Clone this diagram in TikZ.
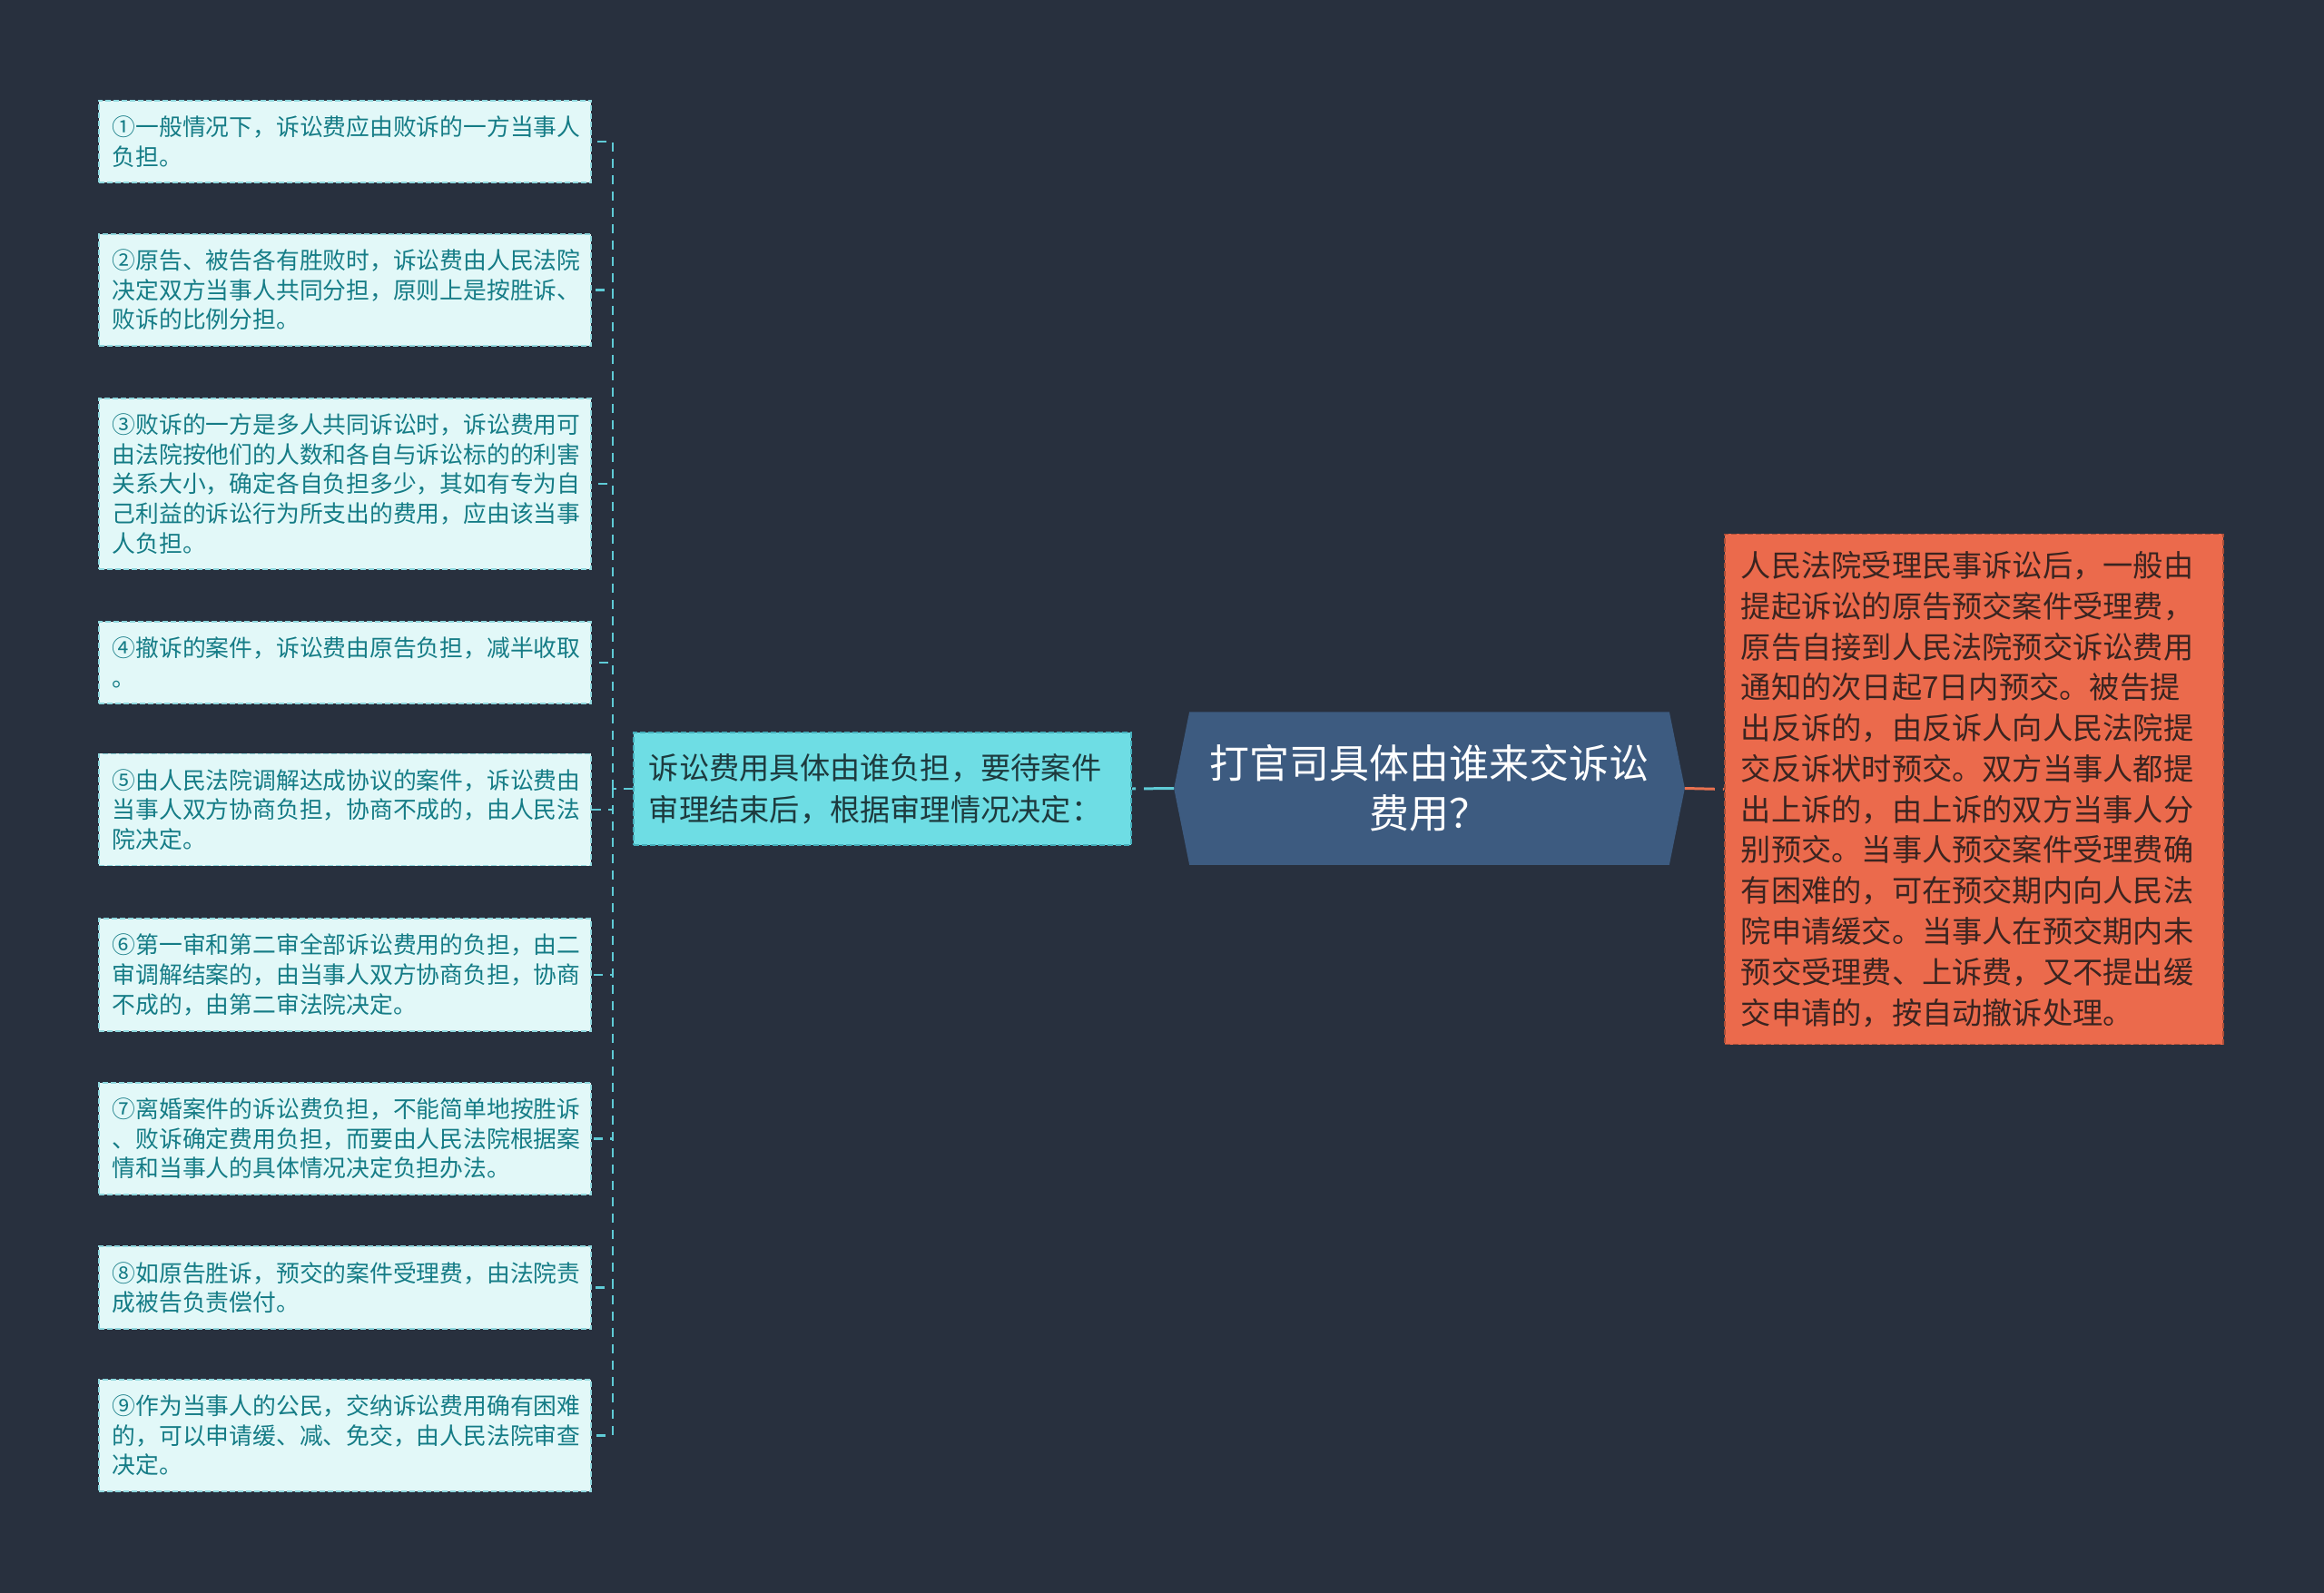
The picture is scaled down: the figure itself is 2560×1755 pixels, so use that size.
\documentclass[tikz,border=0pt]{standalone}
\usepackage{fontspec}
\newfontfamily\cjk{Noto Sans CJK SC}
\usepackage{xcolor}
\usetikzlibrary{positioning,backgrounds}
\definecolor{bgnavy}{HTML}{28303E}
\definecolor{leaffill}{HTML}{E2F8F8}
\definecolor{leafline}{HTML}{8FD8DE}
\definecolor{leaftext}{HTML}{157C86}
\definecolor{midfill}{HTML}{6EDDE4}
\definecolor{midline}{HTML}{45AEBB}
\definecolor{midtext}{HTML}{1D3A3E}
\definecolor{hubfill}{HTML}{3D5B80}
\definecolor{notefill}{HTML}{EB6A4C}
\definecolor{noteline}{HTML}{A94E38}
\definecolor{notetext}{HTML}{3A2420}
\definecolor{cyanline}{HTML}{5FCBD6}
\definecolor{orangeline}{HTML}{E9714F}

\begin{document}
\begin{tikzpicture}[x=0.01cm,y=-0.01cm,every node/.style={font=\cjk},
  leaf/.style={draw=leafline,line width=0.5pt,dash pattern=on 0.06cm off 0.03cm,
    fill=leaffill,text=leaftext,text width=5.12cm,align=left,
    inner xsep=0.15cm,inner ysep=0.17cm,
    font=\cjk\fontsize{7.33pt}{9.27pt}\selectfont},
  twig/.style={draw=cyanline,line width=0.6pt,dash pattern=on 0.1cm off 0.08cm},
  stem/.style={line width=0.85pt,dash pattern=on 0.33cm off 0.09cm}]
  \useasboundingbox (0,0) rectangle (2560,1755);

  % left column
  \node[leaf] (leaf1) at (380,156) {①一般情况下，诉讼费应由败诉的一方当事人\\负担。};
  \node[leaf] (leaf2) at (380,319.5) {②原告、被告各有胜败时，诉讼费由人民法院\\决定双方当事人共同分担，原则上是按胜诉、\\败诉的比例分担。};
  \node[leaf] (leaf3) at (380,533) {③败诉的一方是多人共同诉讼时，诉讼费用可\\由法院按他们的人数和各自与诉讼标的的利害\\关系大小，确定各自负担多少，其如有专为自\\己利益的诉讼行为所支出的费用，应由该当事\\人负担。};
  \node[leaf] (leaf4) at (380,730) {④撤诉的案件，诉讼费由原告负担，减半收取\\。};
  \node[leaf] (leaf5) at (380,892) {⑤由人民法院调解达成协议的案件，诉讼费由\\当事人双方协商负担，协商不成的，由人民法\\院决定。};
  \node[leaf] (leaf6) at (380,1074) {⑥第一审和第二审全部诉讼费用的负担，由二\\审调解结案的，由当事人双方协商负担，协商\\不成的，由第二审法院决定。};
  \node[leaf] (leaf7) at (380,1254.5) {⑦离婚案件的诉讼费负担，不能简单地按胜诉\\、败诉确定费用负担，而要由人民法院根据案\\情和当事人的具体情况决定负担办法。};
  \node[leaf] (leaf8) at (380,1418.5) {⑧如原告胜诉，预交的案件受理费，由法院责\\成被告负责偿付。};
  \node[leaf] (leaf9) at (380,1581.5) {⑨作为当事人的公民，交纳诉讼费用确有困难\\的，可以申请缓、减、免交，由人民法院审查\\决定。};

  % branch, hub and note
  \node[draw=midline,line width=0.5pt,dash pattern=on 0.06cm off 0.03cm,fill=midfill,
    text=midtext,text width=5.14cm,align=left,inner xsep=0.17cm,inner ysep=0.23cm,
    font=\cjk\fontsize{9.45pt}{12.97pt}\selectfont]
    (mid) at (972,869) {诉讼费用具体由谁负担，要待案件\\审理结束后，根据审理情况决定：};
  \node[text=white,align=center,minimum width=5.61cm,minimum height=1.67cm,inner sep=0pt,
    font=\cjk\fontsize{12.5pt}{15.7pt}\selectfont]
    (hub) at (1574.5,868.5) {打官司具体由谁来交诉讼\\费用？};
  \node[draw=noteline,line width=0.5pt,dash pattern=on 0.06cm off 0.03cm,fill=notefill,
    text=notetext,text width=5.13cm,align=left,inner xsep=0.18cm,inner ysep=0.19cm,
    font=\cjk\fontsize{9.45pt}{12.73pt}\selectfont]
    (note) at (2174.5,869.5) {人民法院受理民事诉讼后，一般由\\提起诉讼的原告预交案件受理费，\\原告自接到人民法院预交诉讼费用\\通知的次日起7日内预交。被告提\\出反诉的，由反诉人向人民法院提\\交反诉状时预交。双方当事人都提\\出上诉的，由上诉的双方当事人分\\别预交。当事人预交案件受理费确\\有困难的，可在预交期内向人民法\\院申请缓交。当事人在预交期内未\\预交受理费、上诉费，又不提出缓\\交申请的，按自动撤诉处理。};

  \coordinate (fork) at (675,869);
  \draw[twig] (mid.west) -- (fork);
  \foreach \i in {1,...,9}
    \draw[twig] (fork) |- (leaf\i.east);
  \draw[stem,draw=cyanline] (hub.west) -- (mid.east);
  \draw[stem,draw=orangeline] (hub.east) -- (note.west);

  \begin{scope}[on background layer]
    \fill[bgnavy] (0,0) rectangle (2560,1755);
    \fill[hubfill] (hub.west) -- ([xshift=0.17cm]hub.north west) -- ([xshift=-0.17cm]hub.north east)
      -- (hub.east) -- ([xshift=-0.17cm]hub.south east) -- ([xshift=0.17cm]hub.south west) -- cycle;
  \end{scope}
\end{tikzpicture}
\end{document}
